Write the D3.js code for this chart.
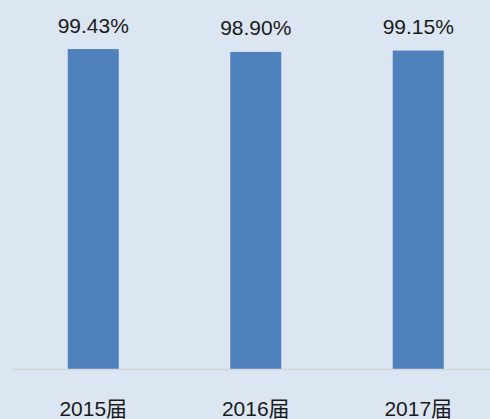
<!DOCTYPE html>
<html>
<head>
<meta charset="utf-8">
<script src="https://cdn.jsdelivr.net/npm/d3@7"></script>
<style>
html, body { margin: 0; padding: 0; background: #dce6f2; }
svg { display: block; }
</style>
</head>
<body>
<svg id="chart" width="490" height="419"></svg>
<script>
const categories = ["2015届", "2016届", "2017届"];
const values = [99.43, 98.90, 99.15];
const valueLabels = ["99.43%", "98.90%", "99.15%"];

const W = 490, H = 419;
const svg = d3.select("#chart");
svg.append("rect").attr("width", W).attr("height", H).attr("fill", "#dce6f2");

const x = d3.scaleBand().domain(categories).range([12, 499.5]).paddingInner(0.686).paddingOuter(0.343);
const y = d3.scaleLinear().domain([40, 100]).range([369, 46]);

svg.append("g").selectAll("rect").data(values).join("rect")
  .attr("x", (d, i) => x(categories[i]))
  .attr("width", x.bandwidth())
  .attr("y", d => y(d))
  .attr("height", d => y(40) - y(d))
  .attr("fill", "#4f81bd");

svg.append("line")
  .attr("x1", x.range()[0]).attr("x2", W)
  .attr("y1", y(40) + 0.5).attr("y2", y(40) + 0.5)
  .attr("stroke", "#d3d6db").attr("stroke-width", 1.5);

svg.append("g").selectAll("text").data(values).join("text")
  .attr("x", (d, i) => x(categories[i]) + x.bandwidth() / 2)
  .attr("y", d => y(d) - 16.5)
  .attr("text-anchor", "middle")
  .attr("font-family", "'Liberation Sans', Arial, sans-serif")
  .attr("font-size", 21)
  .attr("fill", "#1a1a1a")
  .text((d, i) => valueLabels[i]);

svg.append("g").selectAll("text").data(categories).join("text")
  .attr("x", d => x(d) + x.bandwidth() / 2)
  .attr("y", 416)
  .attr("text-anchor", "middle")
  .attr("font-family", "'Liberation Sans', 'Noto Sans CJK SC', Arial, sans-serif")
  .attr("font-size", 21)
  .attr("fill", "#1a1a1a")
  .text(d => d);
</script>
</body>
</html>
